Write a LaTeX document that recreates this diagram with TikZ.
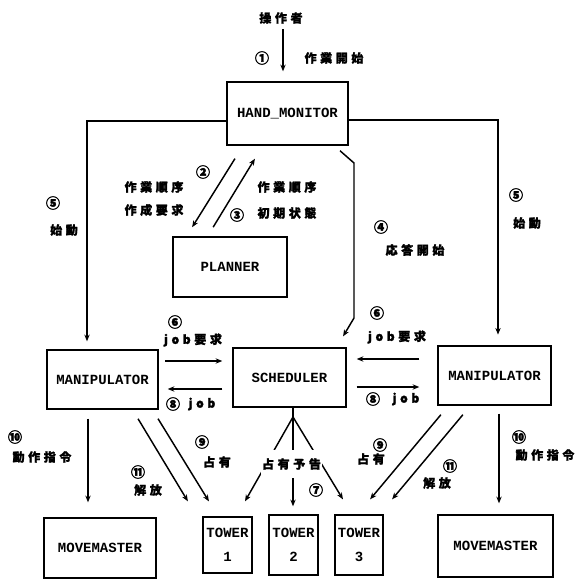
\documentclass[tikz,border=0pt]{standalone}
\usepackage{fontspec}
\usetikzlibrary{arrows.meta, positioning, calc}
\newfontfamily\jpfont[LetterSpace=30, FakeBold=1.6]{Noto Sans CJK JP}
\newfontfamily\numfont[FakeBold=2]{Noto Sans CJK JP}
\newfontfamily\monofont{Liberation Mono}

\begin{document}
\begin{tikzpicture}[x=0.75pt, y=-0.75pt,
  box/.style = {draw, line width=1.1pt, inner sep=0pt, align=center,
    font=\monofont\bfseries\fontsize{10.5}{18}\selectfont},
  lbl/.style = {inner sep=0pt, font=\jpfont\bfseries\fontsize{9}{10}\selectfont},
  num/.style = {inner sep=0pt, font=\numfont\bfseries\fontsize{10.5}{11}\selectfont},
  arr/.style = {line width=1.1pt, -{Stealth[length=5pt, width=4pt]}},
  ln/.style = {line width=1.1pt}]
\useasboundingbox (0,0) rectangle (577,579);

\node[box, minimum width=90.75pt, minimum height=47.25pt] (hand) at (287.5,113.5) {HAND\_MONITOR};
\node[box, minimum width=85.5pt, minimum height=45pt] (planner) at (230,267) {PLANNER};
\node[box, minimum width=83.25pt, minimum height=44.25pt] (manL) at (102.5,379.5) {MANIPULATOR};
\node[box, minimum width=84.75pt, minimum height=44.25pt] (sched) at (289.5,377.5) {SCHEDULER};
\node[box, minimum width=84.75pt, minimum height=44.25pt] (manR) at (494.5,375.5) {MANIPULATOR};
\node[box, minimum width=84pt, minimum height=45pt] (moveL) at (100,548) {MOVEMASTER};
\node[box, minimum width=86.25pt, minimum height=46.5pt] (moveR) at (495.5,546) {MOVEMASTER};
\node[box, minimum width=36.75pt, minimum height=42pt] (tower1) at (227.5,545) {TOWER\\1};
\node[box, minimum width=36.75pt, minimum height=45pt] (tower2) at (293.5,545) {TOWER\\2};
\node[box, minimum width=36pt, minimum height=45pt] (tower3) at (359,545) {TOWER\\3};
\coordinate (apex) at (293,417);

\node[lbl] (op) at (281,18) {操作者};
\node[num] (n1) at (262,58) {①};
\node[lbl] (start) at (334,58) {作業開始};
\node[num] (n2) at (203,172) {②};
\node[lbl] (req1) at (154,187) {作業順序};
\node[lbl] (req2) at (154,210) {作成要求};
\node[num] (n3) at (237,215) {③};
\node[lbl] (init1) at (287,187) {作業順序};
\node[lbl] (init2) at (287,213) {初期状態};
\node[num] (n4) at (381,227) {④};
\node[lbl] (resp) at (415,250) {応答開始};
\node[num] (n5L) at (53,203) {⑤};
\node[lbl] (goL) at (64,230) {始動};
\node[num] (n5R) at (516,195) {⑤};
\node[lbl] (goR) at (527,223) {始動};
\node[num] (n6L) at (175,322) {⑥};
\node[lbl] (askL) at (193,340) {job要求};
\node[num] (n6R) at (377,313) {⑥};
\node[lbl] (askR) at (397,337) {job要求};
\node[num] (n8L) at (173,404) {⑧};
\node[lbl] (jobL) at (202,404) {job};
\node[num] (n8R) at (373,399) {⑧};
\node[lbl] (jobR) at (406,399) {job};
\node[num] (n10L) at (15,437) {⑩};
\node[lbl] (cmdL) at (42,457) {動作指令};
\node[num] (n10R) at (519,437) {⑩};
\node[lbl] (cmdR) at (545,455) {動作指令};
\node[num] (n9L) at (202,442) {⑨};
\node[lbl] (holdL) at (217,462) {占有};
\node[num] (n11L) at (138,472) {⑪};
\node[lbl] (freeL) at (148,490) {解放};
\node[num] (n9R) at (380,445) {⑨};
\node[lbl] (holdR) at (371,459) {占有};
\node[num] (n11R) at (450,466) {⑪};
\node[lbl] (freeR) at (437,483) {解放};
\node[num] (n7) at (316,490) {⑦};

\draw[arr, shorten <=4pt, shorten >=7.5pt] (op.south -| 283,0) -- (hand.north -| 283,0);
\draw[arr, shorten >=6pt] (hand.west |- 0,121) -| (manL.north -| 87,0);
\draw[arr, shorten >=8pt] (hand.east |- 0,120) -| (manR.north -| 498,0);
\draw[arr, shorten <=11.4pt, shorten >=8pt] (hand.south -| 243,0) -- (planner.north -| 186.5,0);
\draw[arr, shorten <=8pt, shorten >=11.4pt] (planner.north -| 207.6,0) -- (hand.south -| 262.8,0);
\draw[arr, shorten >=9.5pt] (hand.south -| 337,0) ++(3,5) -- (354,163) -- (354,318) -- (sched.north -| 336.6,0);
\draw[arr, shorten <=5pt, shorten >=7.5pt] (manL.east |- 0,361) -- (sched.west |- 0,361);
\draw[arr, shorten <=7.5pt, shorten >=6.75pt] (sched.west |- 0,389) -- (manL.east |- 0,389);
\draw[arr, shorten <=13.5pt, shorten >=7.5pt] (manR.west |- 0,359) -- (sched.east |- 0,359);
\draw[arr, shorten <=7.5pt, shorten >=13.5pt] (sched.east |- 0,387) -- (manR.west |- 0,387);
\draw[arr, shorten <=6.75pt, shorten >=11.25pt] (manL.south -| 88,0) -- (moveL.north -| 88,0);
\draw[arr, shorten <=6pt, shorten >=8.25pt] (manR.south -| 499,0) -- (moveR.north -| 499,0);
\draw[arr, shorten <=7.9pt, shorten >=13.1pt] (manL.south -| 132.6,0) -- (tower1.north -| 196.9,0);
\draw[arr, shorten <=7.9pt, shorten >=13.1pt] (manL.south -| 152.5,0) -- (tower1.north -| 218.1,0);
\draw[arr, shorten <=8.75pt, shorten >=14.6pt] (manR.south -| 448.4,0) -- (tower3.north -| 357.6,0);
\draw[arr, shorten <=8.75pt, shorten >=14.6pt] (manR.south -| 470.4,0) -- (tower3.north -| 379.6,0);
\draw[ln] (sched.south -| apex) -- (apex);
\draw[arr, shorten >=12.9pt] (apex) -- (tower1.north -| 236.5,0);
\draw[arr, shorten >=6pt] (apex) -- (tower2.north -| 293,0);
\draw[arr, shorten >=13.1pt] (apex) -- (tower3.north -| 352,0);
\node[lbl, fill=white, inner ysep=6.5pt, inner xsep=1pt] (warn) at (291.5,464) {占有予告};
\end{tikzpicture}
\end{document}
